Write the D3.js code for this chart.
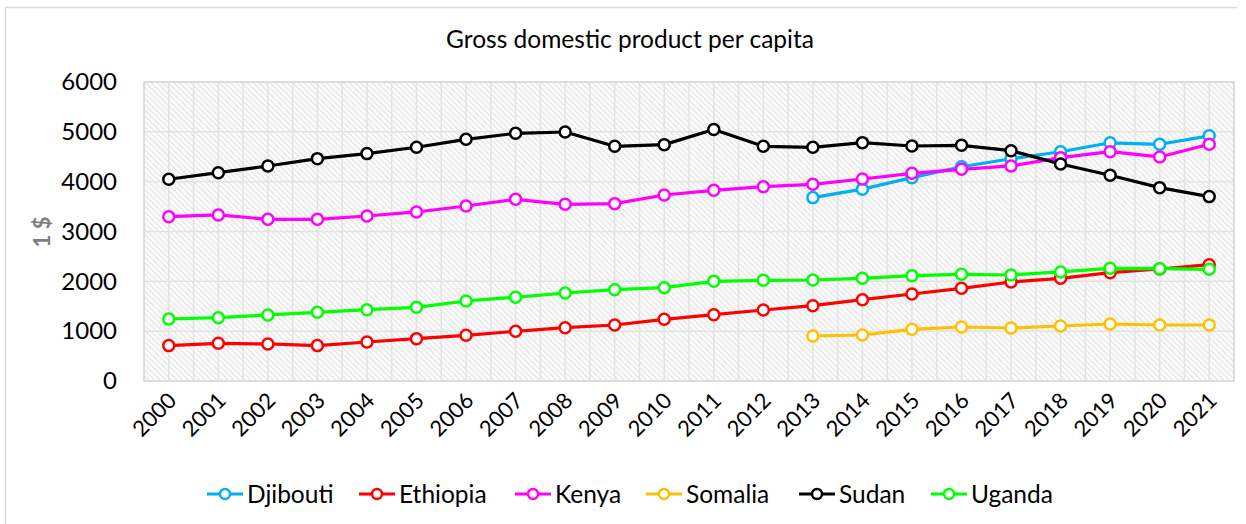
<!DOCTYPE html>
<html>
<head>
<meta charset="utf-8">
<script src="https://cdn.jsdelivr.net/npm/d3@7"></script>
<style>
  html, body { margin: 0; padding: 0; background: #fff; }
  svg { display: block; font-family: Lato, "Open Sans", sans-serif; }
</style>
</head>
<body>
<svg id="chart" width="1246" height="524"></svg>
<script>
// GDP per capita (US$), 2000–2021
const years = ["2000","2001","2002","2003","2004","2005","2006","2007","2008","2009","2010",
               "2011","2012","2013","2014","2015","2016","2017","2018","2019","2020","2021"];

const djibouti = [null,null,null,null,null,null,null,null,null,null,null,null,null,
                  3680,3850,4080,4300,4460,4600,4780,4750,4920];
const ethiopia = [710,756,743,710,783,850,917,997,1070,1124,1238,1331,1425,1512,1632,1746,1860,1987,2060,2174,2248,2334];
const kenya    = [3298,3332,3245,3245,3311,3392,3512,3646,3546,3559,3733,3827,3900,3947,4054,4167,4248,4315,4482,4602,4496,4750];
const somalia  = [null,null,null,null,null,null,null,null,null,null,null,null,null,
                  903,923,1037,1084,1064,1104,1144,1124,1124];
const sudan    = [4048,4180,4315,4462,4563,4690,4850,4970,4997,4710,4743,5045,4710,4690,4783,4716,4730,4622,4355,4128,3880,3700];
const uganda   = [1244,1271,1325,1378,1431,1479,1606,1680,1766,1833,1873,2000,2021,2027,2060,2114,2141,2127,2188,2261,2255,2241];

const seriesNames  = ["Djibouti","Ethiopia","Kenya","Somalia","Sudan","Uganda"];
const seriesValues = [djibouti, ethiopia, kenya, somalia, sudan, uganda];
const seriesColors = ["#00b0f0","#ff0000","#ff00ff","#ffc000","#000000","#00ff00"];
const yTicks = [0,1000,2000,3000,4000,5000,6000];

const svg = d3.select("#chart");
const plot = { left: 144, right: 1234, top: 82, bottom: 381 };

// outer chart frame (top and left edges)
svg.append("path")
  .attr("d", `M5.5,524 V7.5 H1237`)
  .attr("fill", "none").attr("stroke", "#d9d9d9").attr("stroke-width", 1.5);

// diagonal hatch for the plot background
const defs = svg.append("defs");
const pat = defs.append("pattern")
  .attr("id", "hatch").attr("patternUnits", "userSpaceOnUse")
  .attr("width", 4).attr("height", 4)
  .attr("patternTransform", "rotate(-45)");
pat.append("rect").attr("width", 4).attr("height", 4).attr("fill", "#fbfbfb");
pat.append("line").attr("x1", 0).attr("y1", 0).attr("x2", 0).attr("y2", 4)
  .attr("stroke", "#dcdcdc").attr("stroke-width", 1.6);

const x = d3.scaleBand().domain(years).range([plot.left, plot.right]);
const y = d3.scaleLinear().domain([0, 6000]).range([plot.bottom, plot.top]);
const cx = d => x(d) + x.bandwidth() / 2;

svg.append("rect")
  .attr("x", plot.left).attr("y", plot.top)
  .attr("width", plot.right - plot.left).attr("height", plot.bottom - plot.top)
  .attr("fill", "url(#hatch)");

// vertical gridlines at category centres and boundaries
const grid = svg.append("g").attr("stroke", "#e3e3e3").attr("stroke-width", 1.5);
const vx = [];
years.forEach(d => { vx.push(x(d)); vx.push(cx(d)); });
vx.push(plot.right);
grid.selectAll("line.v").data(vx).join("line")
  .attr("x1", d => d).attr("x2", d => d)
  .attr("y1", plot.top).attr("y2", plot.bottom);
grid.selectAll("line.h").data(yTicks).join("line")
  .attr("x1", plot.left).attr("x2", plot.right)
  .attr("y1", d => y(d)).attr("y2", d => y(d));
svg.append("rect")
  .attr("x", plot.left).attr("y", plot.top)
  .attr("width", plot.right - plot.left).attr("height", plot.bottom - plot.top)
  .attr("fill", "none").attr("stroke", "#d9d9d9").attr("stroke-width", 1.5);

// title
svg.append("text")
  .attr("x", 630).attr("y", 48).attr("text-anchor", "middle")
  .attr("font-size", 24.5).attr("fill", "#000")
  .text("Gross domestic product per capita");

// y axis
const yAxis = d3.axisLeft(y).tickValues(yTicks).tickFormat(d3.format("d"))
  .tickSize(0).tickPadding(27);
const gy = svg.append("g").attr("transform", `translate(${plot.left},0)`).call(yAxis);
gy.select(".domain").remove();
gy.selectAll("text").attr("font-size", 24).attr("fill", "#000")
  .attr("font-family", "Lato, sans-serif");

svg.append("text")
  .attr("transform", "translate(50,232) rotate(-90)")
  .attr("text-anchor", "middle")
  .attr("font-size", 22).attr("font-weight", "bold").attr("fill", "#7f7f7f")
  .text("1 $");

// x axis, labels rotated
const xAxis = d3.axisBottom(x).tickSize(0).tickPadding(0);
const gx = svg.append("g").attr("transform", `translate(0,${plot.bottom})`).call(xAxis);
gx.select(".domain").remove();
gx.selectAll("text")
  .attr("font-size", 22).attr("fill", "#000").attr("font-family", "Lato, sans-serif")
  .attr("text-anchor", "end")
  .attr("dy", null).attr("y", 0)
  .attr("transform", "translate(9,21) rotate(-45)");

// series lines and markers
seriesNames.forEach((name, i) => {
  const pts = years.map((yr, j) => ({ yr, v: seriesValues[i][j] })).filter(p => p.v != null);
  const line = d3.line().x(p => cx(p.yr)).y(p => y(p.v));
  svg.append("path").datum(pts)
    .attr("d", line).attr("fill", "none")
    .attr("stroke", seriesColors[i]).attr("stroke-width", 3.2)
    .attr("stroke-linejoin", "round");
  svg.append("g").selectAll("circle").data(pts).join("circle")
    .attr("cx", p => cx(p.yr)).attr("cy", p => y(p.v)).attr("r", 5.5)
    .attr("fill", "#fff").attr("stroke", seriesColors[i]).attr("stroke-width", 2.5);
});

// legend
const legendX = [207, 359, 515, 646, 799, 931];
const lg = svg.append("g");
seriesNames.forEach((name, i) => {
  const g = lg.append("g").attr("transform", `translate(${legendX[i]},494)`);
  g.append("line").attr("x1", 0).attr("x2", 36).attr("y1", 0).attr("y2", 0)
    .attr("stroke", seriesColors[i]).attr("stroke-width", 3.2);
  g.append("circle").attr("cx", 18).attr("cy", 0).attr("r", 5)
    .attr("fill", "#fff").attr("stroke", seriesColors[i]).attr("stroke-width", 2.5);
  g.append("text").attr("x", 40).attr("y", 8.5).attr("font-size", 24.5).attr("fill", "#000")
    .text(name);
});
</script>
</body>
</html>
